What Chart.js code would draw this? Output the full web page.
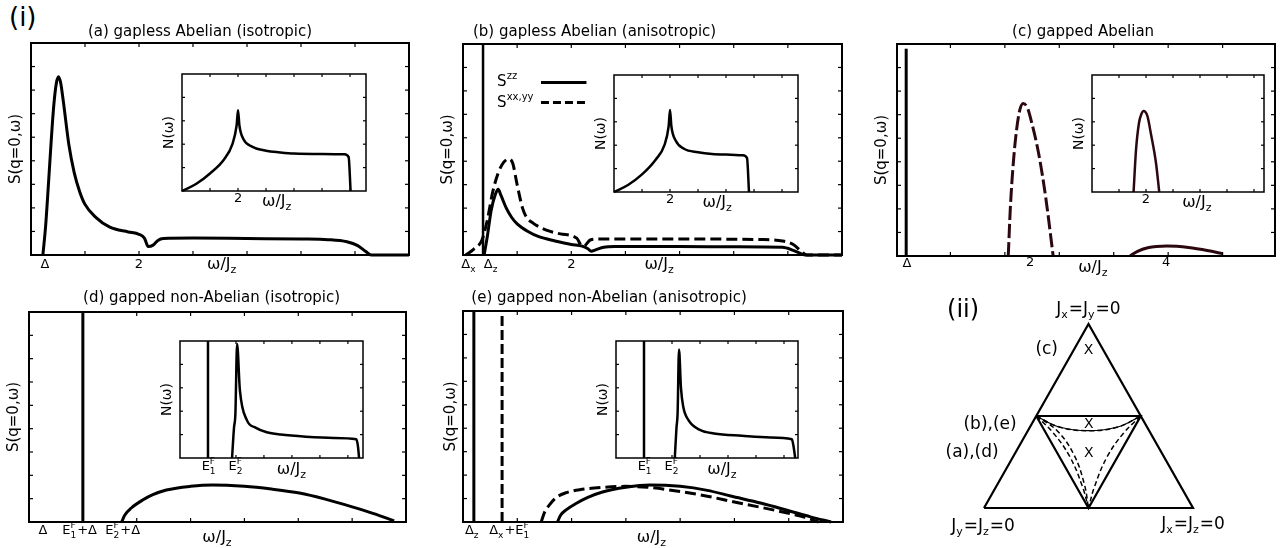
<!DOCTYPE html>
<html>
<head>
<meta charset="utf-8">
<script src="https://cdn.jsdelivr.net/npm/chart.js@4.4.1/dist/chart.umd.min.js"></script>
<style>
  body { margin:0; background:#fff; }
  #fig { position:relative; width:1281px; height:548px; overflow:hidden; background:#fff; }
  .lbl { position:absolute; font-family:"DejaVu Sans", sans-serif; line-height:1; color:#000; }
</style>
</head>
<body>
<div id="fig">
  <div class="lbl" style="left:9px;top:4px;font-size:26px">(i)</div>
</div>
<script>
// ======= Data =======
// (a) gapless Abelian, isotropic
const aOmega = [0.22,0.27,0.32,0.37,0.42,0.47,0.51,0.55,0.6,0.7,0.8,0.9,1.0,1.2,1.46,1.8,2.0,2.1,2.17,2.26,2.35,2.45,3,4,5,5.5,5.85,6.05,6.2,6.3,7];
const aS     = [0,1.2,2.9,4.7,6.3,7.3,7.57,7.3,6.5,4.7,3.5,2.7,2.15,1.6,1.18,0.98,0.88,0.72,0.36,0.42,0.62,0.7,0.72,0.7,0.68,0.65,0.56,0.4,0.15,0,0];
const aDosOmega = [0,0.5,1,1.5,1.8,1.95,2,2.05,2.2,2.5,3,3.5,4,5,5.8,5.95,6.02];
const aDos      = [0,0.3,0.75,1.35,2.0,2.8,3.45,2.8,2.2,1.9,1.72,1.65,1.6,1.58,1.57,1.45,0];

// (b) gapless Abelian, anisotropic
const bDelta = 0.37;
const bZzOmega = [0.39,0.45,0.52,0.6,0.65,0.7,0.8,0.9,1.0,1.2,1.4,1.7,2.0,2.2,2.3,2.37,2.45,2.6,2.8,4,5,5.9,6.1,6.25,6.32,7];
const bZz      = [0,0.8,1.9,2.6,2.8,2.55,2.0,1.6,1.33,1.0,0.78,0.6,0.45,0.38,0.28,0.16,0.22,0.33,0.36,0.36,0.35,0.33,0.2,0.05,0,0];
const bXxOmega = [0.05,0.2,0.35,0.45,0.55,0.65,0.75,0.85,0.92,1.0,1.1,1.17,1.3,1.54,1.8,2.1,2.2,2.26,2.35,2.5,4,5.5,5.9,6.1,6.25,6.35,7];
const bXx      = [0,0.25,0.64,1.5,2.7,3.5,3.95,4.1,3.9,3.0,2.0,1.62,1.35,1.06,0.9,0.72,0.38,0.42,0.64,0.68,0.68,0.66,0.6,0.45,0.15,0,0];
const bDosOmega = [0,0.5,1,1.5,1.8,1.95,2,2.05,2.2,2.5,3,3.5,4,4.6,4.75,4.82];
const bDos      = [0,0.3,0.75,1.4,2.0,2.8,3.5,2.8,2.2,1.85,1.7,1.62,1.6,1.57,1.45,0];

// (c) gapped Abelian
const cDelta = 0.15;
const cDomeOmega = [1.65,1.68,1.72,1.77,1.82,1.87,1.93,2.0,2.1,2.2,2.31];
const cDome      = [0,2.0,3.8,5.3,6.2,6.47,6.3,5.6,4.3,2.5,0];
const cTailOmega = [3.44,3.55,3.7,3.98,4.3,4.6,4.8];
const cTail      = [0,0.2,0.35,0.42,0.36,0.22,0.1];
const cDosOmega = [1.54,1.63,1.74,1.82,1.91,2.05,2.18,2.37,2.49];
const cDos      = [0,1.8,2.95,3.3,3.46,3.25,2.5,1.24,0];

// (d) gapped non-Abelian, isotropic
const dDelta = 1.0;
const dOmega = [1.72,1.78,1.9,2.11,2.3,2.55,3.0,3.41,4.0,4.5,5.02,5.5,6.0,6.4,6.78];
const dS     = [0,0.3,0.6,0.94,1.17,1.37,1.53,1.59,1.53,1.41,1.24,0.98,0.65,0.36,0.05];
const dDosDelta = 1.0;
const dDosOmega = [1.86,1.93,1.98,2.04,2.14,2.39,2.7,3.1,3.6,4.5,5.5,6.3,6.36,6.4];
const dDos      = [0,1.3,1.9,4.87,2.9,1.62,1.3,1.1,1.0,0.91,0.86,0.8,0.5,0];

// (e) gapped non-Abelian, anisotropic
const eDeltaZ = 0.2;
const eDeltaX = 0.72;
const eZzOmega = [1.74,1.8,1.9,2.09,2.3,2.57,3.0,3.44,4.0,4.5,4.93,5.5,6.0,6.4,6.78];
const eZz      = [0,0.3,0.52,0.8,1.05,1.28,1.48,1.58,1.52,1.35,1.11,0.8,0.48,0.22,0];
const eXxOmega = [1.44,1.5,1.6,1.72,1.9,2.15,2.6,3.0,3.4,4.0,4.5,5.0,5.5,6.0,6.3,6.55];
const eXx      = [0,0.4,0.75,1.05,1.25,1.38,1.48,1.52,1.48,1.3,1.1,0.85,0.62,0.37,0.2,0];
const eDosDelta = 1.0;
const eDosOmega = [2.1,2.16,2.2,2.25,2.32,2.4,2.6,3.0,3.5,4.5,5.5,6.28,6.34,6.4];
const eDos      = [0,1.3,1.9,4.64,3.0,2.2,1.6,1.2,1.05,0.95,0.88,0.8,0.5,0];

// axis ticks
const mainXTicks  = [1,2,3,4,5,6];
const cXTicks     = [0.8,1.6,2.4,3.2,4.0,4.8];
const mainYTicks  = [1,2,3,4,5,6,7,8];
const insetXTicks = [1,2,3,4,5,6];
const insetYTicks = [1,2,3,4];

// (ii) phase diagram, in units of the outer triangle
const outerX = [0,1,0.5,0];
const outerY = [0,0,1,0];
const innerX = [0.25,0.75,0.5,0.25];
const innerY = [0.5,0.5,0,0.5];
const arcTopX = [0.25,0.36,0.5,0.64,0.75];
const arcTopY = [0.5,0.44,0.42,0.44,0.5];
const arcLeftX = [0.25,0.33,0.41,0.47,0.5];
const arcLeftY = [0.5,0.41,0.28,0.12,0];
const arcLeft2X = [0.25,0.35,0.43,0.48,0.5];
const arcLeft2Y = [0.5,0.42,0.29,0.13,0];
const arcRightX = [0.75,0.67,0.59,0.53,0.5];
const arcRightY = [0.5,0.41,0.28,0.12,0];

// ======= Helpers =======
const FONT = '"DejaVu Sans", sans-serif';
const fig = document.getElementById("fig");
const pts = (xs, ys) => xs.map((x, i) => ({ x, y: ys[i] }));

function curve(xs, ys, opts = {}) {
  return Object.assign({
    data: pts(xs, ys), showLine: true, pointRadius: 0, fill: false,
    borderColor: "#000", borderWidth: 3, cubicInterpolationMode: "monotone",
    borderJoinStyle: "round", clip: 6
  }, opts);
}
function vline(v, y0, y1, opts = {}) {
  return curve([v, v], [y0, y1], Object.assign({ cubicInterpolationMode: "default", tension: 0 }, opts));
}

// tiny markup: _x subscript, ^x or ^{..} superscript
function parseRich(s) {
  const out = [];
  let i = 0;
  while (i < s.length) {
    const c = s[i];
    if ((c === "_" || c === "^") && i + 1 < s.length) {
      let t;
      if (s[i + 1] === "{") { const j = s.indexOf("}", i); t = s.slice(i + 2, j); i = j + 1; }
      else { t = s[i + 1]; i += 2; }
      out.push({ m: c, t });
    } else {
      const last = out[out.length - 1];
      if (last && last.m === "n") last.t += c; else out.push({ m: "n", t: c });
      i++;
    }
  }
  return out;
}
function drawRich(ctx, s, x, y, size, align) {
  const small = Math.round(size * 0.66);
  const groups = [];
  parseRich(s).forEach(tk => {
    const g = groups[groups.length - 1];
    if (tk.m === "^" && g && g.sub !== undefined && g.sup === undefined) g.sup = tk.t;
    else if (tk.m === "_") groups.push({ sub: tk.t });
    else if (tk.m === "^") groups.push({ sup: tk.t });
    else groups.push({ n: tk.t });
  });
  let w = 0;
  groups.forEach(g => {
    if (g.n !== undefined) { ctx.font = size + "px " + FONT; g.w = ctx.measureText(g.n).width; }
    else {
      ctx.font = small + "px " + FONT;
      g.w = Math.max(g.sub ? ctx.measureText(g.sub).width : 0, g.sup ? ctx.measureText(g.sup).width : 0) + 1;
    }
    w += g.w;
  });
  let cx = align === "left" ? x : x - w / 2;
  ctx.textBaseline = "middle";
  ctx.textAlign = "left";
  ctx.fillStyle = "#000";
  groups.forEach(g => {
    if (g.n !== undefined) { ctx.font = size + "px " + FONT; ctx.fillText(g.n, cx, y); }
    else {
      ctx.font = small + "px " + FONT;
      if (g.sub) ctx.fillText(g.sub, cx, y + size * 0.32);
      if (g.sup) ctx.fillText(g.sup, cx, y - size * 0.38);
    }
    cx += g.w;
  });
}

// frame, inner ticks and all texts
const framePlugin = {
  id: "frame",
  beforeDatasetsDraw(chart, args, o) {
    if (!o.fillBox) return;
    const { ctx, chartArea: a } = chart;
    ctx.save();
    ctx.fillStyle = "#fff";
    ctx.fillRect(a.left, a.top, a.right - a.left, a.bottom - a.top);
    ctx.restore();
  },
  afterDatasetsDraw(chart, args, o) {
    const { ctx, chartArea: a, scales: { x, y } } = chart;
    ctx.save();
    ctx.strokeStyle = "#000";
    const seg = (x1, y1, x2, y2) => { ctx.beginPath(); ctx.moveTo(x1, y1); ctx.lineTo(x2, y2); ctx.stroke(); };
    if (o.box) {
      ctx.lineWidth = 1.2;
      const tl = o.tickLen || 4;
      (o.xTicks || []).forEach(v => {
        const p = x.getPixelForValue(v);
        seg(p, a.bottom, p, a.bottom - tl); seg(p, a.top, p, a.top + tl);
      });
      (o.yTicks || []).forEach(v => {
        const p = y.getPixelForValue(v);
        seg(a.left, p, a.left + tl, p); seg(a.right, p, a.right - tl, p);
      });
      ctx.lineWidth = o.boxWidth || 2;
      ctx.strokeRect(a.left, a.top, a.right - a.left, a.bottom - a.top);
    }
    (o.xLabels || []).forEach(l =>
      drawRich(ctx, l.t, x.getPixelForValue(l.v), a.bottom + l.dy, l.size));
    if (o.title) drawRich(ctx, o.title.t, x.getPixelForValue(o.title.v), a.top + o.title.dy, 15);
    if (o.yTitle) {
      ctx.save();
      ctx.translate(a.left + o.yTitle.dx, (a.top + a.bottom) / 2);
      ctx.rotate(-Math.PI / 2);
      drawRich(ctx, o.yTitle.t, 0, 0, o.yTitle.size || 15);
      ctx.restore();
    }
    (o.texts || []).forEach(l =>
      drawRich(ctx, l.t, x.getPixelForValue(l.x), y.getPixelForValue(l.y), l.size, l.align));
    (o.legend || []).forEach(l => {
      drawRich(ctx, l.t, x.getPixelForValue(l.x), y.getPixelForValue(l.y), 15, "left");
      ctx.lineWidth = 3;
      ctx.setLineDash(l.dash || []);
      const py = y.getPixelForValue(l.y);
      seg(x.getPixelForValue(l.x1), py, x.getPixelForValue(l.x2), py);
      ctx.setLineDash([]);
    });
    ctx.restore();
  }
};
Chart.register(framePlugin);

function makeChart(box, m, xr, yr, datasets, frame) {
  const c = document.createElement("canvas");
  const W = box.w + m[0] + m[2], H = box.h + m[1] + m[3];
  c.width = W; c.height = H;
  c.style.cssText = `position:absolute;left:${box.x - m[0]}px;top:${box.y - m[1]}px;width:${W}px;height:${H}px`;
  fig.appendChild(c);
  return new Chart(c, {
    type: "scatter",
    data: { datasets },
    options: {
      responsive: false, animation: false, events: [],
      layout: { padding: { left: m[0], top: m[1], right: m[2], bottom: m[3] } },
      scales: {
        x: { type: "linear", display: false, min: xr[0], max: xr[1] },
        y: { type: "linear", display: false, min: yr[0], max: yr[1] }
      },
      plugins: { legend: { display: false }, tooltip: { enabled: false }, frame }
    }
  });
}

const MAIN_M = [34, 30, 8, 32];
const INSET_M = [22, 4, 4, 22];
const SLABEL = { t: "S(q=0,ω)", dx: -15 };
const NLABEL = { t: "N(ω)", dx: -13, size: 14 };
const MAROON = "#2b0810";
const TICK = 13, XT = 16;

// ======= (a) =======
makeChart({ x: 31, y: 43, w: 378, h: 212 }, MAIN_M, [0, 7], [0, 9],
  [curve(aOmega, aS)],
  { box: true, xTicks: mainXTicks, yTicks: mainYTicks, yTitle: SLABEL,
    title: { t: "(a) gapless Abelian (isotropic)", v: 3.13, dy: -11 },
    xLabels: [{ v: 0.26, t: "Δ", dy: 10, size: TICK }, { v: 2, t: "2", dy: 10, size: TICK },
              { v: 3.54, t: "ω/J_z", dy: 10, size: XT }] });
makeChart({ x: 182, y: 74, w: 184, h: 117 }, INSET_M, [0, 6.57], [0, 5],
  [curve(aDosOmega, aDos, { borderWidth: 2.5 })],
  { box: true, fillBox: true, boxWidth: 1.5, tickLen: 3, xTicks: insetXTicks, yTicks: insetYTicks, yTitle: NLABEL,
    xLabels: [{ v: 2, t: "2", dy: 8, size: TICK }, { v: 3.4, t: "ω/J_z", dy: 11, size: XT }] });

// ======= (b) =======
makeChart({ x: 463, y: 44, w: 379, h: 211 }, MAIN_M, [0, 7], [0, 9],
  [vline(bDelta, 0, 9, { borderWidth: 2.5 }),
   curve(bXxOmega, bXx, { borderDash: [11, 5] }),
   curve(bZzOmega, bZz)],
  { box: true, xTicks: mainXTicks, yTicks: mainYTicks, yTitle: SLABEL,
    title: { t: "(b) gapless Abelian (anisotropic)", v: 2.43, dy: -12 },
    xLabels: [{ v: 0.11, t: "Δ_x", dy: 10, size: TICK }, { v: 0.52, t: "Δ_z", dy: 10, size: TICK },
              { v: 2, t: "2", dy: 10, size: TICK }, { v: 3.63, t: "ω/J_z", dy: 10, size: XT }],
    legend: [{ t: "S^{zz}", x: 0.63, y: 7.36, x1: 1.44, x2: 2.28 },
             { t: "S^{xx,yy}", x: 0.63, y: 6.5, x1: 1.44, x2: 2.28, dash: [8, 4] }] });
makeChart({ x: 614, y: 75, w: 184, h: 117 }, INSET_M, [0, 6.57], [0, 5],
  [curve(bDosOmega, bDos, { borderWidth: 2.5 })],
  { box: true, fillBox: true, boxWidth: 1.5, tickLen: 3, xTicks: insetXTicks, yTicks: insetYTicks, yTitle: NLABEL,
    xLabels: [{ v: 2, t: "2", dy: 8, size: TICK }, { v: 3.7, t: "ω/J_z", dy: 11, size: XT }] });

// ======= (c) =======
makeChart({ x: 897, y: 44, w: 378, h: 212 }, MAIN_M, [0.015, 5.57], [0, 9],
  [vline(cDelta, 0, 8.8, { borderWidth: 3 }),
   curve(cDomeOmega, cDome, { borderColor: MAROON, borderDash: [14, 4] }),
   curve(cTailOmega, cTail, { borderColor: MAROON })],
  { box: true, xTicks: cXTicks, yTicks: mainYTicks, yTitle: SLABEL,
    title: { t: "(c) gapped Abelian", v: 2.75, dy: -12 },
    xLabels: [{ v: 0.16, t: "Δ", dy: 8, size: TICK }, { v: 1.97, t: "2", dy: 7, size: TICK },
              { v: 3.97, t: "4", dy: 7, size: TICK }, { v: 2.9, t: "ω/J_z", dy: 12, size: XT }] });
makeChart({ x: 1092, y: 75, w: 172, h: 117 }, INSET_M, [0, 6.37], [0, 5],
  [curve(cDosOmega, cDos, { borderWidth: 2.5, borderColor: MAROON })],
  { box: true, fillBox: true, boxWidth: 1.5, tickLen: 3, xTicks: insetXTicks, yTicks: insetYTicks, yTitle: NLABEL,
    xLabels: [{ v: 2, t: "2", dy: 8, size: TICK }, { v: 3.9, t: "ω/J_z", dy: 11, size: XT }] });

// ======= (d) =======
makeChart({ x: 29, y: 312, w: 377, h: 210 }, MAIN_M, [0, 7], [0, 9],
  [vline(dDelta, 0, 9), curve(dOmega, dS)],
  { box: true, xTicks: mainXTicks, yTicks: mainYTicks, yTitle: SLABEL,
    title: { t: "(d) gapped non-Abelian (isotropic)", v: 3.39, dy: -14 },
    xLabels: [{ v: 0.26, t: "Δ", dy: 9, size: TICK }, { v: 0.94, t: "E_1^F+Δ", dy: 9, size: TICK },
              { v: 1.74, t: "E_2^F+Δ", dy: 9, size: TICK }, { v: 3.5, t: "ω/J_z", dy: 16, size: XT }] });
makeChart({ x: 180, y: 341, w: 183, h: 117 }, INSET_M, [0, 6.54], [0, 5],
  [vline(dDosDelta, 0, 5, { borderWidth: 2.5 }), curve(dDosOmega, dDos, { borderWidth: 2.5 })],
  { box: true, fillBox: true, boxWidth: 1.5, tickLen: 3, xTicks: insetXTicks, yTicks: insetYTicks, yTitle: NLABEL,
    xLabels: [{ v: 1.04, t: "E_1^F", dy: 9, size: TICK }, { v: 2.0, t: "E_2^F", dy: 9, size: TICK },
              { v: 4.0, t: "ω/J_z", dy: 12, size: XT }] });

// ======= (e) =======
makeChart({ x: 463, y: 311, w: 380, h: 211 }, MAIN_M, [0, 7], [0, 9],
  [vline(eDeltaZ, 0, 9), vline(eDeltaX, 0, 9, { borderDash: [10, 4] }),
   curve(eXxOmega, eXx, { borderDash: [11, 5] }), curve(eZzOmega, eZz)],
  { box: true, xTicks: mainXTicks, yTicks: mainYTicks, yTitle: { t: "S(q=0,ω)", dx: -12 },
    title: { t: "(e) gapped non-Abelian (anisotropic)", v: 2.69, dy: -13 },
    xLabels: [{ v: 0.17, t: "Δ_z", dy: 9, size: TICK }, { v: 0.86, t: "Δ_x+E_1^F", dy: 9, size: TICK },
              { v: 3.48, t: "ω/J_z", dy: 16, size: XT }] });
makeChart({ x: 616, y: 341, w: 182, h: 117 }, INSET_M, [0, 6.5], [0, 5],
  [vline(eDosDelta, 0, 5, { borderWidth: 2.5 }), curve(eDosOmega, eDos, { borderWidth: 2.5 })],
  { box: true, fillBox: true, boxWidth: 1.5, tickLen: 3, xTicks: insetXTicks, yTicks: insetYTicks, yTitle: NLABEL,
    xLabels: [{ v: 1.04, t: "E_1^F", dy: 9, size: TICK }, { v: 2.0, t: "E_2^F", dy: 9, size: TICK },
              { v: 3.8, t: "ω/J_z", dy: 12, size: XT }] });

// ======= (ii) phase diagram =======
const straight = { cubicInterpolationMode: "default", tension: 0, borderWidth: 2.2, borderJoinStyle: "miter", clip: false };
const arc = { cubicInterpolationMode: "default", tension: 0.4, borderWidth: 1.5, borderDash: [5, 3], clip: false };
makeChart({ x: 984, y: 324, w: 209, h: 184 }, [56, 36, 88, 40], [0, 1], [0, 1],
  [curve(outerX, outerY, straight), curve(innerX, innerY, straight),
   curve(arcTopX, arcTopY, Object.assign({}, arc, { borderDash: [], borderWidth: 1.2 })),
   curve(arcTopX, arcTopY, arc),
   curve(arcLeftX, arcLeftY, arc), curve(arcLeft2X, arcLeft2Y, arc),
   curve(arcRightX, arcRightY, arc)],
  { box: false,
    texts: [
      { t: "(ii)", x: -0.1, y: 1.07, size: 24 },
      { t: "J_x=J_y=0", x: 0.5, y: 1.076, size: 17 },
      { t: "(c)", x: 0.3, y: 0.859, size: 17 },
      { t: "X", x: 0.5, y: 0.859, size: 14 },
      { t: "(b),(e)", x: 0.029, y: 0.451, size: 17 },
      { t: "X", x: 0.502, y: 0.457, size: 14 },
      { t: "(a),(d)", x: -0.057, y: 0.299, size: 17 },
      { t: "X", x: 0.502, y: 0.299, size: 14 },
      { t: "J_y=J_z=0", x: -0.005, y: -0.103, size: 17 },
      { t: "J_x=J_z=0", x: 1.0, y: -0.092, size: 17 }
    ] });
</script>
</body>
</html>
